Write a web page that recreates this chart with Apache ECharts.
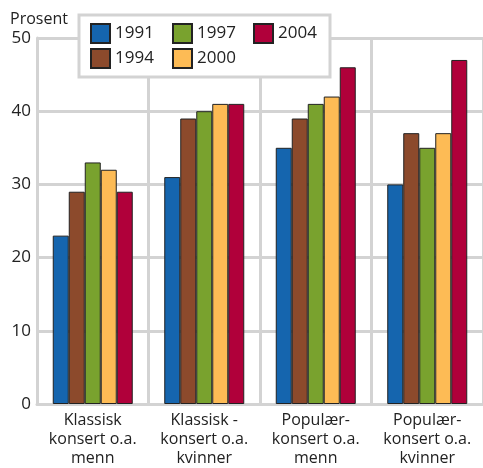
<!DOCTYPE html>
<html>
<head>
<meta charset="utf-8">
<script src="https://cdn.jsdelivr.net/npm/echarts@6/dist/echarts.min.js"></script>
<style>
  html, body { margin: 0; padding: 0; background: #fff; }
  #chart { width: 483px; height: 468px; }
</style>
</head>
<body>
<div id="chart"></div>
<script>
  // kategorier og verdier lest av figuren
  const categories = [
    'Klassisk\nkonsert o.a.\nmenn',
    'Klassisk -\nkonsert o.a.\nkvinner',
    'Populær-\nkonsert o.a.\nmenn',
    'Populær-\nkonsert o.a.\nkvinner'
  ]
  const years = ['1991', '1994', '1997', '2000', '2004']
  const v1991 = [23, 31, 35, 30]
  const v1994 = [29, 39, 39, 37]
  const v1997 = [33, 40, 41, 35]
  const v2000 = [32, 41, 42, 37]
  const v2004 = [29, 41, 46, 47]
  const yTicks = [0, 10, 20, 30, 40, 50]

  const values = [v1991, v1994, v1997, v2000, v2004]
  const colors = ['#1565ae', '#8c4a2c', '#79a22e', '#fdbb55', '#b0003a']
  const font = '"Open Sans", sans-serif'
  const gridGray = '#d3d3d3'

  function legendCol (data, left) {
    return {
      data: data,
      orient: 'vertical',
      left: left,
      top: 23,
      z: 10,
      itemWidth: 19,
      itemHeight: 19,
      itemGap: 4,
      icon: 'rect',
      padding: 0,
      textStyle: { fontFamily: font, fontSize: 17, color: '#222' }
    }
  }

  let chart = echarts.init(document.getElementById('chart'))
  let option = {
    animation: false,
    title: {
      text: 'Prosent',
      left: 5,
      top: 6,
      textStyle: { fontFamily: font, fontSize: 16, fontWeight: 'normal', color: '#222' }
    },
    graphic: [{
      type: 'rect',
      z: 3,
      shape: { x: 79, y: 15, width: 251, height: 62 },
      style: { fill: '#fff', stroke: gridGray, lineWidth: 3 }
    }],
    legend: [
      legendCol([years[0], years[1]], 90),
      legendCol([years[2], years[3]], 172),
      legendCol([years[4]], 253)
    ],
    grid: { left: 37, top: 38, bottom: 63, width: 452 },
    xAxis: {
      type: 'category',
      data: categories,
      axisLine: { lineStyle: { color: gridGray, width: 3 } },
      axisTick: { show: false },
      splitLine: { show: true, lineStyle: { color: gridGray, width: 3 } },
      axisLabel: { fontFamily: font, fontSize: 16, lineHeight: 19, color: '#222', margin: 7, interval: 0 }
    },
    yAxis: {
      type: 'value',
      min: yTicks[0],
      max: yTicks[yTicks.length - 1],
      interval: 10,
      axisLine: { show: true, lineStyle: { color: gridGray, width: 3 } },
      axisTick: { show: false },
      splitLine: { lineStyle: { color: gridGray, width: 3 } },
      axisLabel: { fontFamily: font, fontSize: 17, color: '#222', margin: 6 }
    },
    series: years.map(function (y, i) {
      return {
        name: y,
        type: 'bar',
        data: values[i],
        barWidth: 16,
        barGap: '0%',
        itemStyle: { color: colors[i], borderColor: '#222', borderWidth: 1 }
      }
    })
  }
  chart.setOption(option)
</script>
</body>
</html>
